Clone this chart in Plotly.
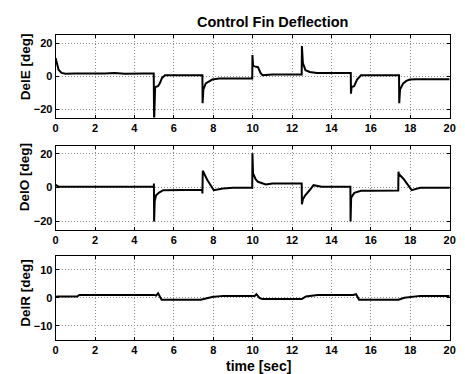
import plotly.graph_objects as go

# ---- data ----
t_dele = [0, 0.05, 0.15, 0.3, 0.5, 1.0, 1.5, 2.0, 2.5, 3.0, 3.5, 4.0, 4.5, 4.98,
          5.0, 5.05, 5.2, 5.3, 5.4, 5.55, 6.0, 7.45, 7.46, 7.5, 7.62, 7.8, 7.95, 8.3,
          9.98, 9.99, 10.02, 10.1, 10.27, 10.4, 10.5, 11.0, 12.49, 12.5, 12.55, 12.68,
          12.9, 13.26, 14.98, 14.99, 15.02, 15.15, 15.3, 15.5, 17.43, 17.44, 17.48,
          17.64, 17.8, 17.98, 18.3, 20]
dele = [11, 8, 4, 2, 1.5, 1.6, 1.8, 1.7, 1.6, 1.9, 1.5, 1.8, 1.7, 1.7,
        -28, -6.5, -6, -4, -1, 0.6, 0.6, 0.6, -16.3, -8, -4.3, -2.8, -2, -1.4,
        -1.4, 12.8, 6.5, 6, 5.5, 2, 0.6, 1.0, 1.0, 18.3, 8, 3.7,
        2.6, 2, 2, -10.6, -6.5, -6, -2, 0.6, 0.6, -16.3, -8,
        -4.3, -2.8, -2, -1.8, -1.8]

t_delo = [0, 0.05, 0.15, 0.3, 4.98, 4.99, 5.0, 5.03, 5.1, 5.25, 5.46, 7.44, 7.45,
          7.47, 7.7, 7.85, 8.03, 8.5, 9.0, 9.98, 9.99, 10.02, 10.15, 10.27, 10.67,
          11.0, 12.49, 12.5, 12.55, 12.67, 12.9, 13.09, 13.5, 14.96, 14.97, 15.0,
          15.16, 15.5, 16.0, 17.39, 17.4, 17.42, 17.64, 17.85, 18.07, 18.5, 20]
delo = [1.5, 1.2, 0.5, 0.4, 0.4, 2.4, -20.2, -8, -4.6, -3, -1.6, -1.4, -3.6,
        10, 4.4, 2, -1.6, -0.6, -0.2, -0.2, 20.4, 8.4, 5, 3.4, 1.8,
        2.4, 2.4, -10, -7, -4.6, -1.5, 1.4, 0.4, 0.4, -20.2, -6,
        -3.2, -2, -2, -1.8, 9.4, 8, 5.4, 2, -1.6, -0.2, -0.2]

t_delr = [0, 0.1, 1.1, 1.2, 5.0, 5.1, 5.2, 5.38, 7.37, 7.7, 7.94, 8.5, 10.1,
          10.19, 10.36, 10.5, 12.5, 12.7, 13.3, 15.1, 15.25, 15.4, 17.4, 17.7,
          18.0, 18.5, 20]
delr = [0.3, 0.5, 0.5, 1.05, 1.05, 0.8, 1.6, -0.7, -0.7, 0.0, 0.3, 0.7, 0.7,
        1.3, -0.1, -0.4, -0.4, 0.5, 1.05, 1.05, 1.3, -0.7, -0.7, 0.0,
        0.3, 0.7, 0.7]

x_ticks = [0, 2, 4, 6, 8, 10, 12, 14, 16, 18, 20]
y_ticks_eo = [-20, 0, 20]
y_ticks_r = [-10, 0, 10]

title_text = "Control Fin Deflection"
y_titles = ["DelE [deg]", "DelO [deg]", "DelR [deg]"]
x_title = "time [sec]"

# ---- figure ----
OFF = 8  # page body margin offset
W, H = 465 - OFF, 374 - OFF
FONT = "Liberation Sans, Arial, sans-serif"


def px(x):
    return (x - OFF) / W


def py(y):
    return 1 - (y - OFF) / H


fig = go.Figure()
series = [(t_dele, dele), (t_delo, delo), (t_delr, delr)]
for i, (tt, vv) in enumerate(series):
    suffix = "" if i == 0 else str(i + 1)
    fig.add_trace(go.Scatter(x=tt, y=vv, mode="lines",
                             line=dict(color="black", width=2),
                             xaxis="x" + suffix, yaxis="y" + suffix,
                             showlegend=False, hoverinfo="skip"))

xd = [px(53.5), px(455.5)]
ydoms = [(35, 117.5), (145.5, 229.5), (255.7, 340)]
yranges = [[-25, 25], [-25, 25], [-15, 15]]
yticks = [y_ticks_eo, y_ticks_eo, y_ticks_r]

tickfont = dict(family=FONT, size=11, color="black", weight="bold")
layout = dict(
    width=W, height=H,
    margin=dict(l=0, r=0, t=0, b=0),
    paper_bgcolor="white", plot_bgcolor="white",
    showlegend=False,
)
for i in range(3):
    suffix = "" if i == 0 else str(i + 1)
    top, bot = ydoms[i]
    common = dict(showline=True, linecolor="black", linewidth=1, mirror="allticks",
                  ticks="inside", ticklen=3, tickcolor="black",
                  showgrid=True, gridcolor="#8c8c8c", griddash="1px,2px", gridwidth=1,
                  zeroline=False, tickfont=tickfont, fixedrange=True)
    layout["xaxis" + suffix] = dict(common, domain=xd, range=[0, 20],
                                    tickmode="array", tickvals=x_ticks,
                                    anchor="y" + suffix)
    layout["yaxis" + suffix] = dict(common, domain=[py(bot), py(top)],
                                    range=yranges[i], tickmode="array",
                                    tickvals=yticks[i], anchor="x" + suffix)

fig.update_layout(**layout)

ann = [dict(text=title_text, x=px(274.5), y=py(22.3), xref="paper", yref="paper",
            showarrow=False, xanchor="center", yanchor="middle",
            font=dict(family=FONT, size=14.5, color="black", weight="bold")),
       dict(text=x_title, x=px(260), y=py(366), xref="paper", yref="paper",
            showarrow=False, xanchor="center", yanchor="middle",
            font=dict(family=FONT, size=14, color="black", weight="bold"))]
ycent = [67, 177, 292.5]
for i, txt in enumerate(y_titles):
    ann.append(dict(text=txt, x=px(22.5), y=py(ycent[i]), xref="paper", yref="paper",
                    showarrow=False, textangle=-90, xanchor="center", yanchor="middle",
                    font=dict(family=FONT, size=13.5, color="black", weight="bold")))
fig.update_layout(annotations=ann)

fig.write_html("out.html")
